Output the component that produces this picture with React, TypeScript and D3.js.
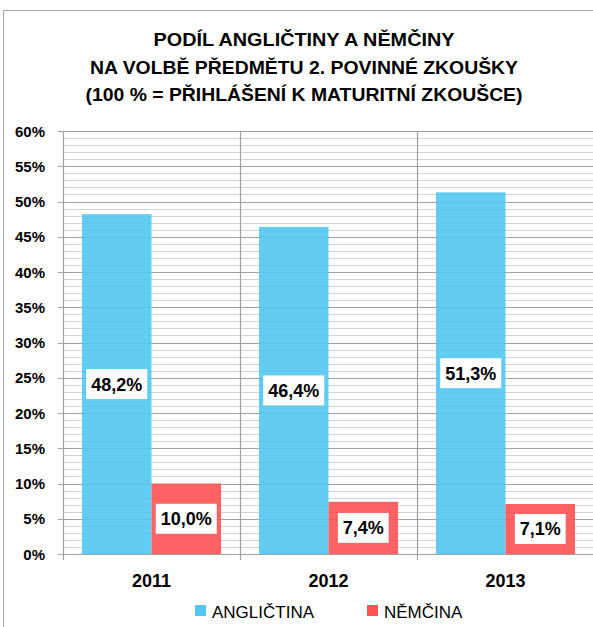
import React from 'react';
import * as d3 from 'd3';

const categories = ['2011', '2012', '2013'];
const anglictina = [48.2, 46.4, 51.3];
const nemcina = [10.0, 7.4, 7.1];
const seriesNames = ['ANGLIČTINA', 'NĚMČINA'];
const yTicks = [0, 5, 10, 15, 20, 25, 30, 35, 40, 45, 50, 55, 60];
const titleLines = [
  'PODÍL ANGLIČTINY A NĚMČINY',
  'NA VOLBĚ PŘEDMĚTU 2. POVINNÉ ZKOUŠKY',
  '(100 % = PŘIHLÁŠENÍ K MATURITNÍ ZKOUŠCE)',
];
const titleWidths = [301, 428, 437];

const W = 593;
const H = 627;
const left = 63;
const right = 594;
const top = 131;
const bottom = 554;
const colors = ['#52C6F2', '#FF5252'];
const font = "'Liberation Sans', Arial, sans-serif";

const fmt = (v: number) => v.toFixed(1).replace('.', ',') + '%';

export default function App() {
  const x = d3.scaleBand<string>().domain(categories).range([left, right]).padding(0);
  const xs = d3.scaleBand<string>().domain(['a', 'n']).range([0, x.bandwidth()]).paddingInner(0).paddingOuter(0.273);
  const y = d3.scaleLinear().domain([0, 60]).range([bottom, top]);
  const minor = d3.range(0, 61, 1).filter((v) => v % 5 !== 0);
  const series = [anglictina, nemcina];
  const keys = ['a', 'n'];

  return (
    <svg width={W} height={H} style={{ display: 'block', position: 'absolute', left: 0, top: 0 }} fontFamily={font}>
      <rect x={0} y={0} width={W} height={H} fill="#fff" />
      <rect x={3.5} y={10.5} width={W + 20} height={H + 20} fill="#fff" stroke="#a6a6a6" strokeWidth={1} />
      {titleLines.map((t, i) => (
        <text
          key={i}
          x={304}
          y={46 + i * 27.5}
          textAnchor="middle"
          fontWeight="bold"
          fontSize={18.5}
          fill="#000"
          textLength={titleWidths[i]}
          lengthAdjust="spacingAndGlyphs"
        >
          {t}
        </text>
      ))}
      {/* minor gridlines */}
      {minor.map((v) => (
        <line key={'m' + v} x1={left} x2={W} y1={Math.round(y(v)) + 0.5} y2={Math.round(y(v)) + 0.5} stroke="#d4d4d4" strokeWidth={1.2} />
      ))}
      {yTicks.map((v) => (
        <line key={'M' + v} x1={left - 5} x2={W} y1={Math.round(y(v)) + 0.5} y2={Math.round(y(v)) + 0.5} stroke="#a0a0a0" strokeWidth={1.2} />
      ))}
      {/* category separators */}
      {categories.map((c) => (
        <line key={'v' + c} x1={x(c)! + 0.5} x2={x(c)! + 0.5} y1={top} y2={bottom + 6} stroke="#a0a0a0" strokeWidth={1.2} />
      ))}
      {/* bars */}
      {categories.map((c, ci) =>
        series.map((s, si) => {
          const bx = x(c)! + xs(keys[si])!;
          return (
            <rect key={c + si} x={bx} y={y(s[ci])} width={xs.bandwidth()} height={bottom - y(s[ci])} fill={colors[si]} fillOpacity={0.9} />
          );
        })
      )}
      {/* value labels */}
      {categories.map((c, ci) =>
        series.map((s, si) => {
          const cx = x(c)! + xs(keys[si])! + xs.bandwidth() / 2;
          const cy = (y(s[ci]) + bottom) / 2;
          const label = fmt(s[ci]);
          const tw = label.length * 10.2;
          return (
            <g key={'l' + c + si}>
              <rect x={cx - tw / 2 - 5} y={cy - 15} width={tw + 10} height={30} fill="#fff" />
              <text x={cx} y={cy + 6.5} textAnchor="middle" fontWeight="bold" fontSize={18} fill="#000">
                {label}
              </text>
            </g>
          );
        })
      )}
      {/* y labels */}
      {yTicks.map((v) => (
        <text key={'yl' + v} x={45} y={y(v) + 5.5} textAnchor="end" fontWeight="bold" fontSize={15} fill="#000">
          {v}%
        </text>
      ))}
      {/* x labels */}
      {categories.map((c) => (
        <text key={'xl' + c} x={x(c)! + x.bandwidth() / 2} y={587} textAnchor="middle" fontWeight="bold" fontSize={18} fill="#000">
          {c}
        </text>
      ))}
      {/* legend */}
      {seriesNames.map((n, i) => {
        const lx = i === 0 ? 195 : 367;
        return (
          <g key={'lg' + i}>
            <rect x={lx} y={605} width={11} height={11} fill={colors[i]} />
            <text x={lx + 17} y={618} fontSize={17} fill="#000">
              {n}
            </text>
          </g>
        );
      })}
    </svg>
  );
}
